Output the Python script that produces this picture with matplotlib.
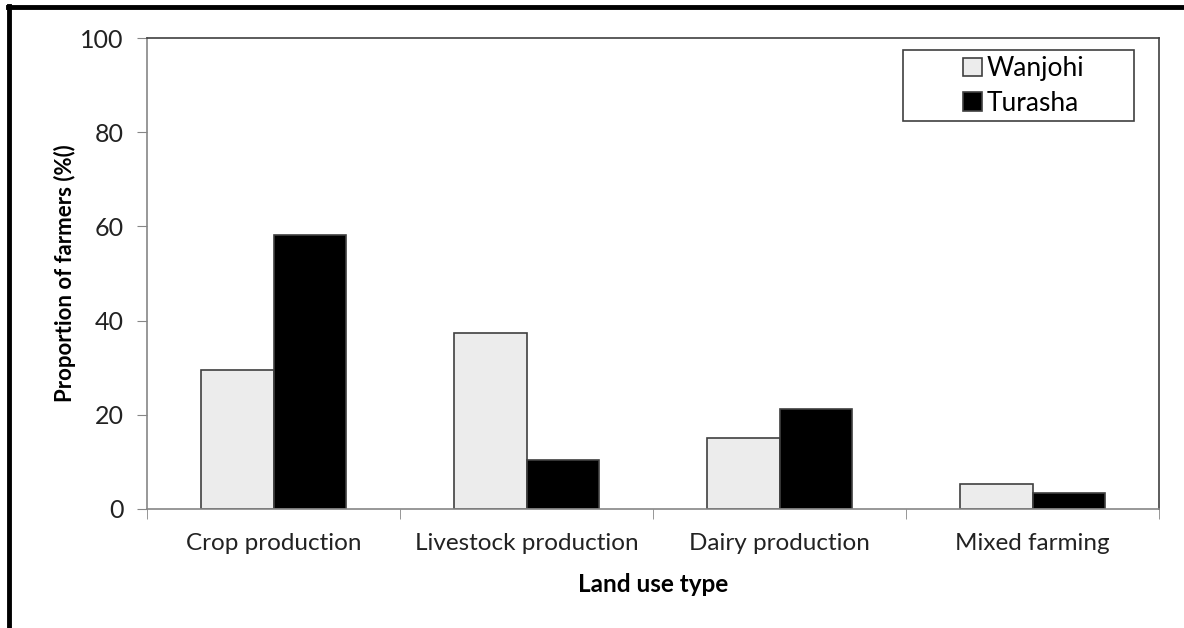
import numpy as np
import matplotlib.pyplot as plt
from matplotlib.lines import Line2D
from matplotlib.patches import Rectangle

plt.rcParams['font.family'] = ['Lato', 'DejaVu Sans']

# land use shares per site
categories = ['Crop production', 'Livestock production', 'Dairy production', 'Mixed farming']
wanjohi = [29.5, 37.4, 15.0, 5.4]
turasha = [58.2, 10.3, 21.2, 3.5]
yticks = [0, 20, 40, 60, 80, 100]

W, H = 1184, 628
fig = plt.figure(figsize=(W/100, H/100), dpi=100)
ax = fig.add_axes([147/W, 1 - 509/H, (1159 - 147)/W, (509 - 38)/H])

x = np.arange(len(categories))
w = 0.285
ax.bar(x - w/2, wanjohi, w, color='#ececec', edgecolor='#404040', linewidth=1.2, label='Wanjohi')
ax.bar(x + w/2, turasha, w, color='black', edgecolor='#404040', linewidth=1.2, label='Turasha')

ax.set_xlim(-0.5, len(categories) - 0.5)
ax.set_ylim(0, 100)
ax.set_yticks(yticks)
ax.set_xticks(x)
ax.set_xticklabels(categories)
ax.set_xticks(np.arange(len(categories) + 1) - 0.5, minor=True)
ax.tick_params(axis='x', which='major', length=0, pad=17, labelsize=17.5, colors='#222222')
ax.tick_params(axis='x', which='minor', length=7, color='#868686', direction='out')
ax.tick_params(axis='y', length=7, color='#868686', direction='out', pad=10, labelsize=18, labelcolor='#222222')

for s in ['left', 'bottom']:
    ax.spines[s].set_color('#868686')
for s in ['top', 'right']:
    ax.spines[s].set_color('#404040')
for s in ax.spines.values():
    s.set_linewidth(1.2)

ax.set_ylabel('Proportion of farmers (%()', fontsize=16, fontweight='bold', labelpad=3)
ax.set_xlabel('Land use type', fontsize=17.5, fontweight='bold', labelpad=14)

# legend entries centred in a wider hand-drawn box
leg = ax.legend(loc='center', bbox_to_anchor=(1024/W, 1 - 86/H), bbox_transform=fig.transFigure,
                fontsize=19, frameon=False, handlelength=0.7, handleheight=0.7,
                handletextpad=0.2, labelspacing=0.35, borderpad=0)
fig.add_artist(Rectangle((903/W, 1 - 121/H), 231/W, 71/H, transform=fig.transFigure,
                         facecolor='none', edgecolor='#404040', linewidth=1.2))

# thick frame along top and left of the figure
fig.add_artist(Line2D([8/W, 1], [1 - 7/H, 1 - 7/H], color='black', linewidth=3.5, transform=fig.transFigure))
fig.add_artist(Line2D([9/W, 9/W], [0, 1 - 6/H], color='black', linewidth=3.5, transform=fig.transFigure))

fig.savefig('out.png', dpi=100)
